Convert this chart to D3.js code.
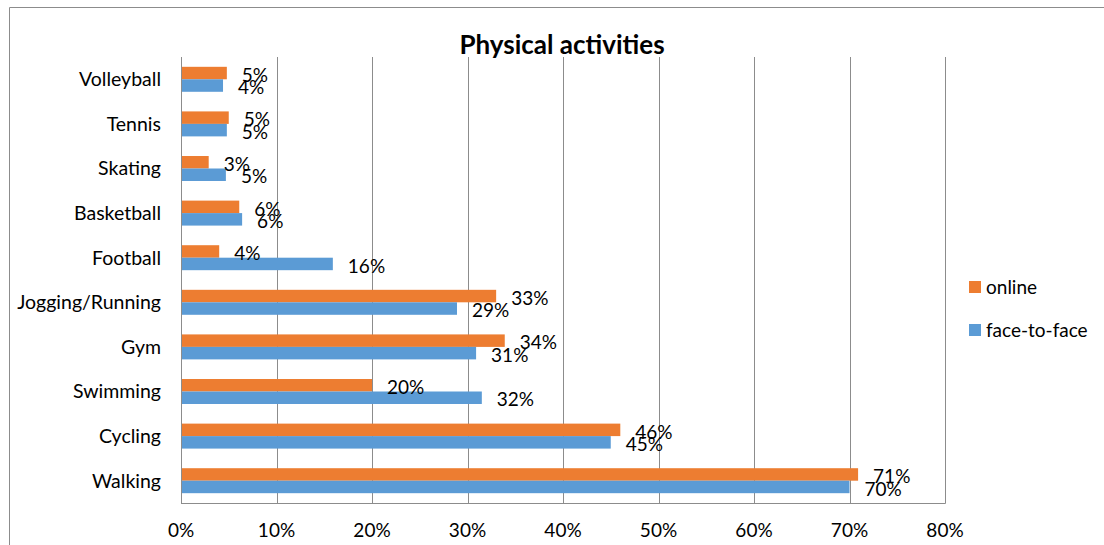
<!DOCTYPE html>
<html><head><meta charset="utf-8">
<script src="https://cdn.jsdelivr.net/npm/d3@7"></script>
<style>body{margin:0;background:#fff}svg{display:block}text{font-family:Lato,"Open Sans",sans-serif;fill:#000}</style>
</head><body><svg id="c" width="1104" height="545"></svg>
<script>
const categories = ["Volleyball","Tennis","Skating","Basketball","Football","Jogging/Running","Gym","Swimming","Cycling","Walking"];
const onlineValues = [4.8,5.0,2.9,6.1,4.0,33.0,33.9,20.0,46.0,70.9];
const faceValues = [4.4,4.8,4.7,6.4,15.9,28.9,30.9,31.5,45.0,70.0];
const onlineLabels = ["5%","5%","3%","6%","4%","33%","34%","20%","46%","71%"];
const faceLabels = ["4%","5%","5%","6%","16%","29%","31%","32%","45%","70%"];
const xTicks = [0,10,20,30,40,50,60,70,80];
const seriesNames = ["online","face-to-face"];
const colors = {"online":"#ED7D31","face-to-face":"#5B9BD5"};

const svg = d3.select("#c");
const L = 181, R = 945, T = 57, B = 503;
svg.append("path").attr("d","M9.5,545 V7.5 H1104").attr("fill","none").attr("stroke","#8c8c8c").attr("stroke-width",1);

const x = d3.scaleLinear().domain([0,80]).range([L,R]);
const y = d3.scaleBand().domain(categories).range([T,B]).paddingInner(0.44).paddingOuter(0.22);
const sub = d3.scaleBand().domain(seriesNames).range([0,y.bandwidth()]);

// gridlines
svg.append("g").selectAll("line").data(xTicks).join("line")
  .attr("x1",d=>Math.round(x(d))+0.5).attr("x2",d=>Math.round(x(d))+0.5)
  .attr("y1",T).attr("y2",B+0.5).attr("stroke","#8c8c8c").attr("stroke-width",1);
svg.append("line").attr("x1",L).attr("x2",R+0.5).attr("y1",B+0.5).attr("y2",B+0.5).attr("stroke","#8c8c8c");

// x axis labels
svg.append("g").selectAll("text").data(xTicks).join("text")
  .attr("x",d=>x(d)).attr("y",537).attr("text-anchor","middle").style("font-size","19px")
  .text(d=>d+"%");

// category labels
svg.append("g").selectAll("text").data(categories).join("text")
  .attr("x",161).attr("y",d=>y(d)+y.bandwidth()/2).attr("dy","0.35em").attr("text-anchor","end")
  .style("font-size","19.5px").text(d=>d);

const rows = categories.map((c,i)=>({c, vals:[
  {s:"online",v:onlineValues[i],lab:onlineLabels[i]},
  {s:"face-to-face",v:faceValues[i],lab:faceLabels[i]}]}));

const g = svg.append("g");
const grp = g.selectAll("g").data(rows).join("g").attr("transform",d=>`translate(0,${y(d.c)})`);
grp.selectAll("rect").data(d=>d.vals).join("rect")
  .attr("x",x(0)+1).attr("y",d=>sub(d.s)).attr("width",d=>x(d.v)-x(0)-1).attr("height",sub.bandwidth())
  .attr("fill",d=>colors[d.s]);
grp.selectAll("text").data(d=>d.vals).join("text")
  .attr("x",d=>x(d.v)+15).attr("y",d=>sub(d.s)+sub.bandwidth()/2+2).attr("dy","0.35em")
  .style("font-size","19px").text(d=>d.lab);

// title
svg.append("text").attr("x",562).attr("y",54).attr("text-anchor","middle")
  .style("font-size","26px").style("font-weight","bold").text("Physical activities");

// legend
const leg = svg.append("g").selectAll("g").data(seriesNames).join("g")
  .attr("transform",(d,i)=>`translate(969,${281+i*43})`);
leg.append("rect").attr("width",12).attr("height",12).attr("fill",d=>colors[d]);
leg.append("text").attr("x",17).attr("y",6).attr("dy","0.35em").style("font-size","19px").text(d=>d);
</script></body></html>
